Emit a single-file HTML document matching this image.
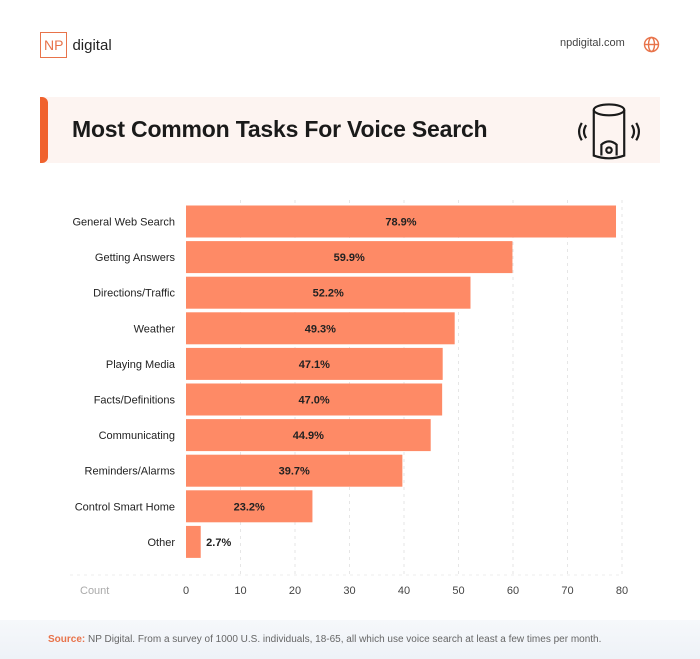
<!DOCTYPE html>
<html><head><meta charset="utf-8">
<style>
body{margin:0;width:700px;height:659px;background:#fff;font-family:"Liberation Sans",sans-serif;position:relative;overflow:hidden}
.abs{position:absolute}
</style></head>
<body>
<div class="abs" style="left:40px;top:32px;height:26px;display:flex;align-items:center">
 <div style="border:1.5px solid #e8734a;color:#e8734a;font-size:14px;padding:4px 3px;line-height:16px">NP</div>
 <span style="margin-left:5px;font-size:15px;color:#222">digital</span>
</div>
<div class="abs" style="left:560px;top:37px;font-size:11px;color:#444">npdigital.com</div>
<svg class="abs" style="left:643px;top:36px" width="17" height="17" viewBox="0 0 17 17"><g fill="none" stroke="#e8734a" stroke-width="1.4"><circle cx="8.5" cy="8.5" r="7"/><ellipse cx="8.5" cy="8.5" rx="3" ry="7"/><line x1="1.5" y1="8.5" x2="15.5" y2="8.5"/></g></svg>

<div class="abs" style="left:40px;top:97px;width:620px;height:66px;background:#fdf4f1"></div>
<div class="abs" style="left:40px;top:97px;width:8px;height:66px;background:#f0622e;border-radius:0 6px 6px 0"></div>
<div class="abs" style="left:72px;top:116px;font-size:23px;font-weight:bold;color:#1a1a1a;letter-spacing:-0.2px">Most Common Tasks For Voice Search</div>
<svg class="abs" style="left:573px;top:99px" width="72" height="62" viewBox="0 0 66 57"><g fill="none" stroke="#1a1a1a" stroke-width="2">
<ellipse cx="33" cy="10" rx="14" ry="5"/><path d="M19 10 V52 Q33 57 47 52 V10"/><path d="M26 52 V42 Q33 36 40 42 V52"/><circle cx="33" cy="47" r="2.5"/>
<path d="M12 24 Q8 30 12 36"/><path d="M8 22 Q3 30 8 38"/><path d="M54 24 Q58 30 54 36"/><path d="M58 22 Q63 30 58 38"/></g></svg>

<svg class="abs" id="chart" style="left:0;top:0" width="700" height="620"></svg>

<div class="abs" style="left:0;top:620px;width:700px;height:39px;background:linear-gradient(#f6f8fb,#eef2f7)"></div>
<div class="abs" style="left:48px;top:634px;font-size:10px;color:#666"><span style="color:#e8734a;font-weight:bold">Source:</span> NP Digital. From a survey of 1000 U.S. individuals, 18-65, all which use voice search at least a few times per month.</div>

<script>
const categories=["General Web Search","Getting Answers","Directions/Traffic","Weather","Playing Media","Facts/Definitions","Communicating","Reminders/Alarms","Control Smart Home","Other"];
const values=[78.9,59.9,52.2,49.3,47.1,47.0,44.9,39.7,23.2,2.7];
const ticks=[0,10,20,30,40,50,60,70,80];
const svg=document.getElementById('chart');
const NS='http://www.w3.org/2000/svg';
const x0=186,x1=622,xmax=80;
const x=v=>x0+(x1-x0)*v/xmax;
const y=i=>205.5+i*35.6;
const bh=32;
function mk(t,a){const e=document.createElementNS(NS,t);for(const k in a)e.setAttribute(k,a[k]);svg.appendChild(e);return e;}
ticks.forEach(t=>{
 if(t>0){const g=mk('line',{x1:x(t),x2:x(t),y1:200,y2:575,stroke:'#e6e6e6','stroke-dasharray':'3,4'});
 
 }
 const l=mk('text',{x:x(t),y:594,'font-size':11,fill:'#444','text-anchor':'middle'});l.textContent=t;
 
 
});
const ax=mk('line',{x1:70,x2:x1,y1:575,y2:575,stroke:'#eee','stroke-dasharray':'3,4'});


const c=mk('text',{x:80,y:594,'font-size':11,fill:'#aaa'});c.textContent='Count';


categories.forEach((cat,i)=>{
 const r=mk('rect',{x:x(0),y:y(i),width:x(values[i])-x(0),height:bh,fill:'#fe8a66'});
 
 
 const lb=mk('text',{x:175,y:y(i)+bh/2+4,'font-size':11,fill:'#222','text-anchor':'end'});lb.textContent=cat;
 
 
 const w=x(values[i])-x(0);
 const inside=w>40;
 const vx=inside?x(0)+w/2:x(values[i])+18;
 const v=mk('text',{x:vx,y:y(i)+bh/2+4,'font-size':11,'font-weight':'bold',fill:'#222','text-anchor':'middle'});
 v.textContent=values[i].toFixed(1)+'%';
 
 
});
</script>
</body></html>
